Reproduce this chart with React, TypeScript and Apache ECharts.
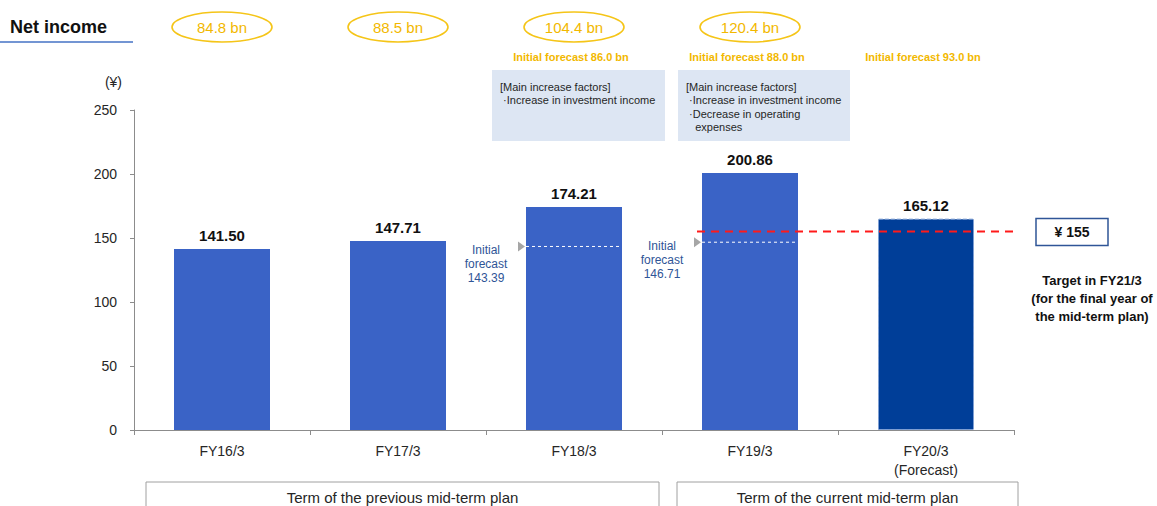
import React, { useEffect, useRef } from 'react';
import * as echarts from 'echarts';

const categories = ['FY16/3', 'FY17/3', 'FY18/3', 'FY19/3', 'FY20/3\n(Forecast)'];
const epsValues = [141.5, 147.71, 174.21, 200.86, 165.12];
const netIncomeBn = ['84.8 bn', '88.5 bn', '104.4 bn', '120.4 bn'];
const initialForecastBn = ['', '', 'Initial forecast 86.0 bn', 'Initial forecast 88.0 bn', 'Initial forecast 93.0 bn'];
const initialForecastEps: (number | null)[] = [null, null, 143.39, 146.71, null];
const targetEps = 155;
const yMin = 0;
const yMax = 250;
const yInterval = 50;
const factorTexts = [
  '[Main increase factors]\n ·Increase in investment income',
  '[Main increase factors]\n ·Increase in investment income\n ·Decrease in operating\n   expenses',
];
const planTerms = ['Term of the previous mid-term plan', 'Term of the current mid-term plan'];

const FONT = '"Liberation Sans", Arial, sans-serif';
const BAR = '#3a63c6';
const BAR_FC = '#003e98';
const ORANGE = '#f2b800';
const BLUE_TXT = '#2f5597';

export default function App() {
  const ref = useRef<HTMLDivElement>(null);
  useEffect(() => {
    document.body.style.margin = '0';
    const chart = echarts.init(ref.current!, undefined, { renderer: 'svg' });
    chart.setOption({
      animation: false,
      textStyle: { fontFamily: FONT },
      grid: { left: 134, right: 143, top: 110, bottom: 76 },
      xAxis: {
        type: 'category',
        data: categories,
        axisLine: { lineStyle: { color: '#8c8c8c' } },
        axisTick: { show: true, length: 5, lineStyle: { color: '#8c8c8c' } },
        axisLabel: { color: '#262626', fontSize: 14, margin: 11, lineHeight: 19, fontFamily: FONT },
      },
      yAxis: {
        type: 'value',
        min: yMin,
        max: yMax,
        interval: yInterval,
        splitLine: { show: false },
        axisLine: { show: true, lineStyle: { color: '#8c8c8c' } },
        axisTick: { show: true, length: 4, lineStyle: { color: '#8c8c8c' } },
        axisLabel: { color: '#262626', fontSize: 14, margin: 17, fontFamily: FONT },
      },
      series: [
        {
          type: 'bar',
          barWidth: 96,
          data: epsValues.map((v, i) =>
            i === epsValues.length - 1
              ? { value: v, itemStyle: { color: BAR_FC, borderColor: '#7f9fd6', borderType: 'dashed', borderWidth: 1 } }
              : { value: v, itemStyle: { color: BAR } }
          ),
          label: {
            show: true,
            position: 'top',
            distance: 6,
            formatter: (p: any) => p.value.toFixed(2),
            fontSize: 15,
            fontWeight: 'bold',
            color: '#111',
            fontFamily: FONT,
          },
        },
      ],
    });

    const px = (i: number, v: number) => chart.convertToPixel({ gridIndex: 0 }, [i, v]) as number[];
    const half = 48;
    const g: any[] = [];

    // Title
    g.push({ type: 'text', x: 10, y: 27, style: { text: 'Net income', font: `bold 18px ${FONT}`, fill: '#111', verticalAlign: 'middle' } });
    g.push({ type: 'line', shape: { x1: 0, y1: 42, x2: 133, y2: 42 }, style: { stroke: '#4472c4', lineWidth: 1.5 } });
    g.push({ type: 'text', x: 122, y: 82, style: { text: '(¥)', font: `14px ${FONT}`, fill: '#262626', align: 'right', verticalAlign: 'middle' } });

    // Net income ellipses
    netIncomeBn.forEach((t, i) => {
      const [cx] = px(i, 0);
      g.push({ type: 'ellipse', shape: { cx, cy: 27, rx: 50, ry: 15 }, style: { fill: '#fff', stroke: '#f5c518', lineWidth: 1.6 } });
      g.push({ type: 'text', x: cx, y: 27, style: { text: t, font: `15px ${FONT}`, fill: ORANGE, align: 'center', verticalAlign: 'middle' } });
    });
    initialForecastBn.forEach((t, i) => {
      if (!t) return;
      const [cx] = px(i, 0);
      g.push({ type: 'text', x: cx - 3, y: 57, style: { text: t, font: `bold 11px ${FONT}`, fill: ORANGE, align: 'center', verticalAlign: 'middle' } });
    });

    // Factor boxes
    const boxes = [{ x: 492, w: 173 }, { x: 678, w: 172 }];
    boxes.forEach((b, k) => {
      g.push({ type: 'rect', shape: { x: b.x, y: 70, width: b.w, height: 71 }, style: { fill: '#dde6f3' } });
      g.push({ type: 'text', x: b.x + 8, y: 80, style: { text: factorTexts[k], font: `11px ${FONT}`, fill: '#262626', lineHeight: 13.5, verticalAlign: 'top' } });
    });

    // Initial forecast EPS markers
    initialForecastEps.forEach((v, i) => {
      if (v == null) return;
      const [cx, cy] = px(i, v);
      const left = cx - half;
      g.push({ type: 'line', shape: { x1: left, y1: cy, x2: cx + half, y2: cy }, style: { stroke: '#ffffff', lineWidth: 1, lineDash: [3, 3] } });
      g.push({ type: 'polygon', shape: { points: [[left - 8, cy - 5], [left - 1, cy], [left - 8, cy + 5]] }, style: { fill: '#a6a6a6' } });
      const [pcx] = px(i - 1, 0);
      const mx = (pcx + cx) / 2;
      g.push({ type: 'text', x: mx, y: cy - 3, style: { text: `Initial\nforecast\n${v.toFixed(2)}`, font: `12px ${FONT}`, fill: BLUE_TXT, align: 'center', verticalAlign: 'top', lineHeight: 14 } });
    });

    // Target line
    const [c3, ty] = px(3, targetEps);
    const [, y0] = px(0, 0);
    const gridRight = 1157 - 143;
    g.push({ type: 'line', shape: { x1: c3 - half - 5, y1: ty, x2: gridRight + 4, y2: ty }, style: { stroke: '#ff1a1a', lineWidth: 2, lineDash: [8, 6] } });
    g.push({ type: 'rect', shape: { x: 1036, y: ty - 13, width: 72, height: 27 }, style: { fill: '#fff', stroke: '#2f5597', lineWidth: 1.5 } });
    g.push({ type: 'text', x: 1072, y: ty + 0.5, style: { text: `¥ ${targetEps}`, font: `bold 14px ${FONT}`, fill: '#111', align: 'center', verticalAlign: 'middle' } });
    g.push({ type: 'text', x: 1092, y: 271, style: { text: 'Target in FY21/3\n(for the final year of\nthe mid-term plan)', font: `bold 13px ${FONT}`, fill: '#111', align: 'center', verticalAlign: 'top', lineHeight: 18 } });

    // Plan term brackets
    const [c0] = px(0, 0);
    const [c2] = px(2, 0);
    const [c4] = px(4, 0);
    const terms = [
      { x1: c0 - 76, x2: c2 + 85 },
      { x1: c3 - 73, x2: c4 + 92 },
    ];
    terms.forEach((t, k) => {
      g.push({ type: 'rect', shape: { x: t.x1, y: y0 + 52, width: t.x2 - t.x1, height: 40 }, style: { fill: 'none', stroke: '#a0a0a0', lineWidth: 1 } });
      g.push({ type: 'text', x: (t.x1 + t.x2) / 2, y: y0 + 67, style: { text: planTerms[k], font: `15px ${FONT}`, fill: '#262626', align: 'center', verticalAlign: 'middle' } });
    });

    chart.setOption({ graphic: { elements: g.map((e) => ({ ...e, z: 100 })) } });
    return () => chart.dispose();
  }, []);
  return <div ref={ref} style={{ width: 1157, height: 506 }} />;
}
